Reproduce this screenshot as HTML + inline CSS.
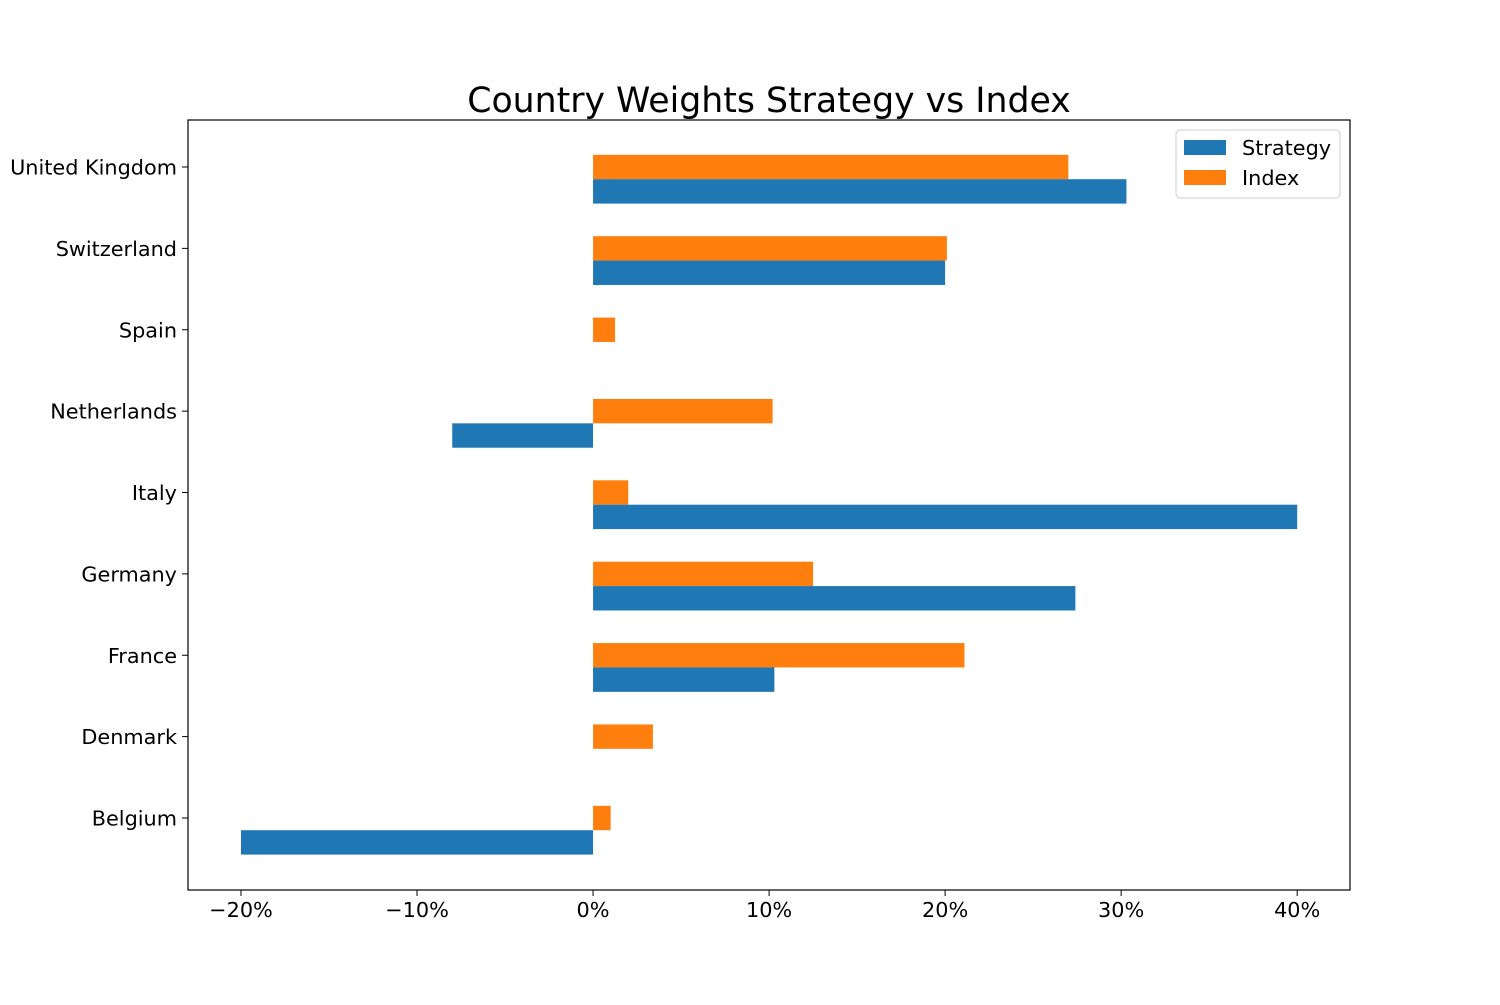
<!DOCTYPE html>
<html><head><meta charset="utf-8"><style>
body{margin:0;background:#fff;}
svg text{font-family:"DejaVu Sans","Liberation Sans",sans-serif;}
</style></head><body>
<svg id="chart" width="1500" height="1000" xmlns="http://www.w3.org/2000/svg">
<rect width="1500" height="1000" fill="#fff"/>
<text x="769" y="112" font-size="34.7" text-anchor="middle">Country Weights Strategy vs Index</text>
<g id="bars"></g>
<rect x="188" y="120" width="1162" height="770" fill="none" stroke="#000" stroke-width="1.2"/>
<g id="ticks"></g>
<g>
<rect x="1176" y="130" width="164" height="68" rx="4" fill="#fff" stroke="#ccc"/>
<rect x="1184" y="140" width="42" height="15" fill="#1f77b4"/>
<text x="1242" y="155" font-size="20.8">Strategy</text>
<rect x="1184" y="170" width="42" height="15" fill="#ff7f0e"/>
<text x="1242" y="185" font-size="20.8">Index</text>
</g>
</svg>
<script>
const categories=["Belgium","Denmark","France","Germany","Italy","Netherlands","Spain","Switzerland","United Kingdom"];
const strategy=[-20,0,10.3,27.4,40,-8,0,20,30.3];
const indexW=[1.0,3.4,21.1,12.5,2.0,10.2,1.25,20.1,27.0];
const xTicks=[-20,-10,0,10,20,30,40];
const NS="http://www.w3.org/2000/svg";
const xMin=-23.01,xMax=43.0,L=188,R=1350;
const x=v=>L+(v-xMin)/(xMax-xMin)*(R-L);
const yc=i=>818-i*81.375;
const bh=24.4;
const bars=document.getElementById('bars'),ticks=document.getElementById('ticks');
function mk(t,a){const e=document.createElementNS(NS,t);for(const k in a)e.setAttribute(k,a[k]);return e;}
categories.forEach((c,i)=>{
 const cy=yc(i);
 let v=indexW[i];
 let r=mk('rect',{x:Math.min(x(0),x(v)),y:cy-bh/2,width:Math.abs(x(v)-x(0)),height:bh,fill:'#ff7f0e'});
 
 
 bars.appendChild(r);
 v=strategy[i];
 r=mk('rect',{x:Math.min(x(0),x(v)),y:cy+bh/2,width:Math.abs(x(v)-x(0)),height:bh,fill:'#1f77b4'});
 
 
 bars.appendChild(r);
 const tk=mk('line',{x1:188,x2:182,y1:cy,y2:cy,stroke:'#000'});
 
 
 ticks.appendChild(tk);
 const t=mk('text',{x:177,y:cy+7.5,'font-size':20.8,'text-anchor':'end'});
 
 
 t.textContent=c;ticks.appendChild(t);
});
xTicks.forEach(v=>{
 const tk=mk('line',{x1:x(v),x2:x(v),y1:890,y2:896,stroke:'#000'});
 
 
 ticks.appendChild(tk);
 const t=mk('text',{x:x(v),y:917,'font-size':20.8,'text-anchor':'middle'});
 
 
 t.textContent=(v<0?'\u2212'+(-v):v)+'%';ticks.appendChild(t);
});
</script>
</body></html>
